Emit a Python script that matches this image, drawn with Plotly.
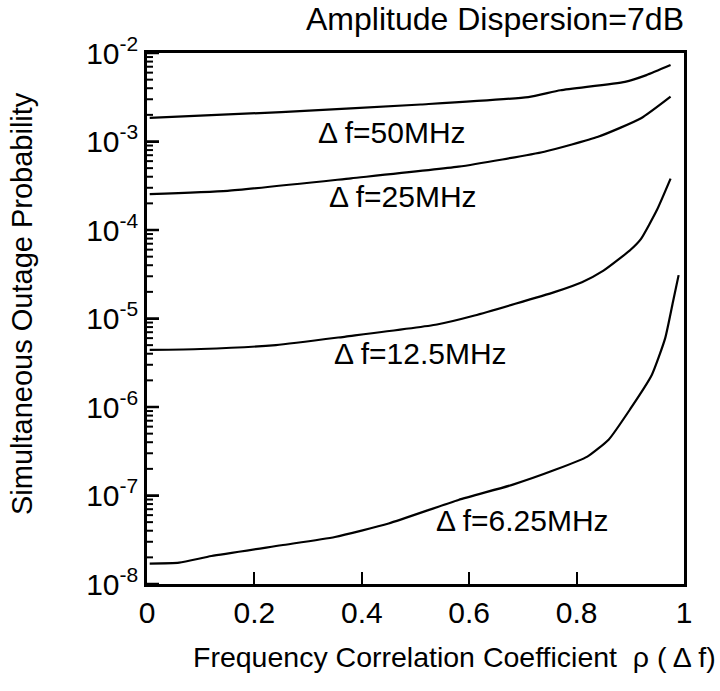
import numpy as np
import plotly.graph_objects as go

# ---- data ----
rho_50 = [0.005, 0.25, 0.51, 0.71, 0.77, 0.89, 0.93, 0.975]
p_50 = [1.85e-3, 2.15e-3, 2.62e-3, 3.18e-3, 3.79e-3, 4.71e-3, 5.62e-3, 7.3e-3]

rho_25 = [0.005, 0.15, 0.38, 0.58, 0.74, 0.84, 0.92, 0.975]
p_25 = [2.54e-4, 2.77e-4, 3.84e-4, 5.19e-4, 7.67e-4, 1.13e-3, 1.83e-3, 3.21e-3]

rho_12 = [0.005, 0.10, 0.24, 0.37, 0.54, 0.61, 0.76, 0.81, 0.85, 0.90, 0.92, 0.95, 0.975]
p_12 = [4.41e-6, 4.52e-6, 5.01e-6, 6.25e-6, 8.55e-6, 1.08e-5, 2.0e-5, 2.57e-5,
        3.47e-5, 5.94e-5, 7.94e-5, 1.70e-4, 3.80e-4]

rho_6 = [0.005, 0.06, 0.12, 0.25, 0.35, 0.45, 0.58, 0.68, 0.76, 0.82, 0.86, 0.90,
         0.94, 0.965, 0.98, 0.99]
p_6 = [1.70e-8, 1.74e-8, 2.07e-8, 2.74e-8, 3.40e-8, 4.83e-8, 8.91e-8, 1.32e-7,
       1.95e-7, 2.75e-7, 4.3e-7, 9.5e-7, 2.3e-6, 6.0e-6, 1.6e-5, 3.09e-5]

curve_labels = ["Δ f=50MHz", "Δ f=25MHz", "Δ f=12.5MHz", "Δ f=6.25MHz"]
label_x = [0.456, 0.477, 0.51, 0.70]
label_p = [1.28e-3, 2.42e-4, 4.07e-6, 5.28e-8]

x_tickvals = [0, 0.2, 0.4, 0.6, 0.8, 1]
x_ticktext = ["0", "0.2", "0.4", "0.6", "0.8", "1"]
y_exps = [-8, -7, -6, -5, -4, -3, -2]
y_ticktext = ["10<sup>%d</sup>" % e for e in y_exps]
y_minor = [m * 10.0 ** e for e in y_exps[:-1] for m in range(2, 10)]

title_text = "Amplitude Dispersion=7dB"
xtitle_text = "Frequency Correlation Coefficient  ρ ( Δ f)"
ytitle_text = "Simultaneous Outage Probability"

FONT = "Liberation Sans, Arial, Helvetica, sans-serif"
PLOT_W = 720 - 147 - 36  # plot-area width in px

# the y axis is a decade (log10) scale
lg = np.log10


def tick_segments(levels, length_px):
    """Short inward tick segments on the left axis at the given y levels."""
    xs, ys = [], []
    for v in levels:
        xs += [0, length_px / PLOT_W, None]
        ys += [v, v, None]
    return xs, ys


fig = go.Figure()
for xs, ys in [(rho_50, p_50), (rho_25, p_25), (rho_12, p_12), (rho_6, p_6)]:
    fig.add_trace(go.Scatter(x=xs, y=lg(ys), mode="lines",
                             line=dict(color="black", width=2.2, shape="spline", smoothing=0.5),
                             showlegend=False, hoverinfo="skip"))

mx, my = tick_segments(y_exps, 12)
fig.add_trace(go.Scatter(x=mx, y=my, mode="lines", line=dict(color="black", width=2.5),
                         showlegend=False, hoverinfo="skip"))
nx, ny = tick_segments(list(lg(y_minor)), 6)
fig.add_trace(go.Scatter(x=nx, y=ny, mode="lines", line=dict(color="black", width=2),
                         showlegend=False, hoverinfo="skip"))

for t, x, y in zip(curve_labels, label_x, label_p):
    fig.add_annotation(text=t, x=x, y=float(lg(y)), xref="x", yref="y", showarrow=False,
                       font=dict(size=30, color="black", family=FONT))

fig.add_annotation(text=title_text, x=1.003, y=1.064, xref="paper", yref="paper",
                   xanchor="right", yanchor="middle", showarrow=False,
                   font=dict(size=32, color="black", family=FONT))
fig.add_annotation(text=xtitle_text, x=0.573, y=-0.137, xref="paper", yref="paper",
                   xanchor="center", yanchor="middle", showarrow=False,
                   font=dict(size=28.5, color="black", family=FONT))
fig.add_annotation(text=ytitle_text, x=-0.233, y=0.529, xref="paper", yref="paper",
                   xanchor="center", yanchor="middle", textangle=-90, showarrow=False,
                   font=dict(size=29, color="black", family=FONT))

fig.update_xaxes(range=[0, 1], tickmode="array", tickvals=x_tickvals, ticktext=x_ticktext,
                 ticks="inside", ticklen=12, tickwidth=2, tickcolor="black",
                 showline=True, linecolor="black", linewidth=2.5, mirror=True,
                 showgrid=False, zeroline=False,
                 tickfont=dict(size=30, color="black", family=FONT))

fig.update_yaxes(range=[-8, -2], tickmode="array", tickvals=y_exps, ticktext=y_ticktext,
                 ticks="inside", ticklen=12, tickwidth=2, tickcolor="black",
                 showline=True, linecolor="black", linewidth=2.5, mirror=True,
                 showgrid=False, zeroline=False,
                 tickfont=dict(size=30, color="black", family=FONT))

fig.update_layout(width=720, height=691, margin=dict(l=147, r=36, t=53, b=107),
                  paper_bgcolor="white", plot_bgcolor="white", showlegend=False)

fig.write_html("out.html")
